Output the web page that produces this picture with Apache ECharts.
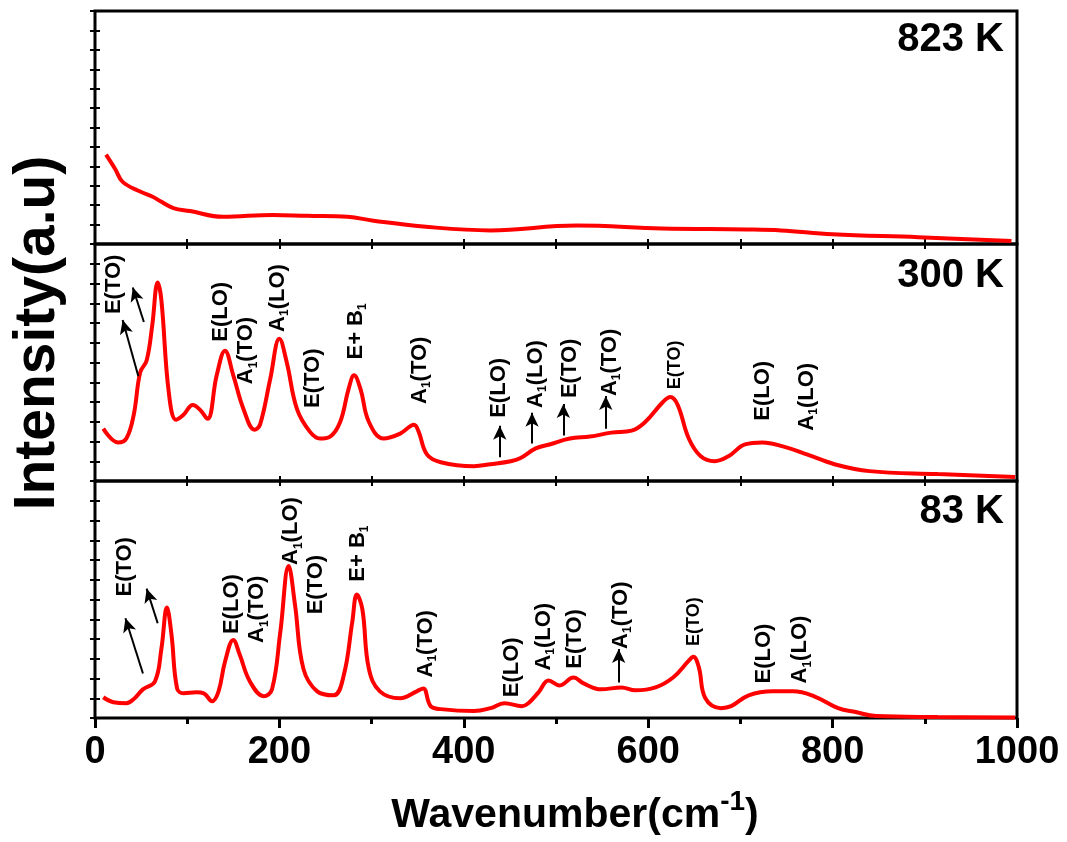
<!DOCTYPE html>
<html>
<head>
<meta charset="utf-8">
<script src="https://cdn.jsdelivr.net/npm/echarts@6/dist/echarts.min.js"></script>
<style>
  html, body { margin: 0; padding: 0; background: #fff; }
  #chart { width: 1067px; height: 842px; }
</style>
</head>
<body>
<div id="chart"></div>
<script>
// Raman spectra, [wavenumber (cm-1), intensity (a.u.)]
const k823 = [[12,92],[22,77],[30,64],[49,54],[62,49],[71,44],[85,37],[103,34],[139,28],[193,30],[230,29],[274,28],[302,24],[356,18],[429,14],[522,19],[615,16],[707,15],[744,14],[800,10],[893,7],[994,3]];
const k300 = [[9,53],[25,39],[34,43],[42,67],[49,110],[56,122],[62,157],[68,201],[72,183],[80,90],[88,62],[96,67],[106,77],[114,72],[122,63],[132,107],[141,132],[150,107],[161,73],[173,52],[179,57],[190,103],[200,144],[208,120],[219,73],[233,50],[244,43],[255,45],[266,60],[275,93],[281,107],[288,93],[297,60],[313,43],[331,48],[346,57],[351,50],[360,27],[375,19],[411,15],[429,17],[451,20],[461,23],[478,33],[493,37],[515,43],[537,45],[560,49],[582,51],[597,60],[616,80],[624,85],[632,77],[644,43],[657,25],[672,20],[687,25],[705,37],[724,39],[746,35],[772,27],[802,17],[840,10],[914,7],[998,4]];
const k83 = [[9,21],[20,16],[34,15],[43,20],[52,29],[65,37],[72,70],[78,112],[83,84],[89,30],[96,25],[110,26],[118,25],[127,17],[134,27],[141,57],[150,79],[157,64],[168,37],[183,22],[192,29],[201,87],[210,154],[217,114],[226,50],[241,27],[259,23],[270,44],[279,97],[284,125],[290,110],[297,50],[309,27],[331,20],[349,27],[356,30],[364,12],[375,9],[411,7],[429,10],[444,15],[463,12],[470,15],[481,26],[492,38],[504,33],[519,41],[530,35],[549,29],[571,31],[586,28],[608,31],[627,41],[644,58],[649,62],[655,51],[662,20],[679,10],[690,12],[709,23],[735,27],[757,27],[780,22],[806,10],[825,6],[847,2],[914,1],[998,0.5]];

const temps = ['823 K', '300 K', '83 K'];
const xTicks = ['0', '200', '400', '600', '800', '1000'];

// mode assignments [wavenumber, intensity, text]
const tags823 = [];
const tags300 = [[21,169,'E(TO)'],[137,141,'E(LO)'],[164,98,'A{s|1}(TO)'],[198,151,'A{s|1}(LO)'],[236,74,'E(TO)'],[283,123,'E+ B{s|1}'],[352,78,'A{s|1}(TO)'],[438,64,'E(LO)'],[478,74,'A{s|1}(LO)'],[515,84,'E(TO)'],[558,86,'A{s|1}(TO)'],[724,61,'E(LO)'],[772,51,'A{s|1}(LO)']];
const tags83 = [[32,123,'E(TO)'],[148,85,'E(LO)'],[176,76,'A{s|1}(TO)'],[213,155,'A{s|1}(LO)'],[240,105,'E(TO)'],[285,138,'E+ B{s|1}'],[359,41,'A{s|1}(TO)'],[452,21,'E(LO)'],[487,48,'A{s|1}(LO)'],[521,50,'E(TO)'],[570,70,'A{s|1}(TO)'],[726,35,'E(LO)'],[765,35,'A{s|1}(LO)']];
const smallTags823 = [];
const smallTags300 = [[629,93,'E(TO)']];
const smallTags83 = [[650,73,'E(TO)']];

// arrows [[from], [to]]
const arrows823 = [];
const arrows300 = [[[47,106],[30,163]],[[53,161],[41,196]],[[439,24],[439,56]],[[474,38],[474,69]],[[508,46],[508,78]],[[554,53],[554,86]]];
const arrows83 = [[[52,45],[33,101]],[[68,96],[56,131]],[[568,36],[568,70]]];

const spectra = [k823, k300, k83];
const tags = [tags823, tags300, tags83];
const smallTags = [smallTags823, smallTags300, smallTags83];
const arrows = [arrows823, arrows300, arrows83];

const FONT = '"Liberation Sans", Arial, sans-serif';
const chart = echarts.init(document.getElementById('chart'));

const grids = [
  { left: 95, right: 50, top: 11, height: 233 },
  { left: 95, right: 50, top: 244, height: 237 },
  { left: 95, right: 50, top: 481, height: 237 }
].map(g => ({ ...g, show: true, borderColor: '#000', borderWidth: 3 }));

const xAxes = [];
const yAxes = [];
const series = [];

const tagLabel = (size) => ({
  show: true,
  position: [0, 0],
  rotate: 90,
  align: 'left',
  verticalAlign: 'middle',
  formatter: p => p.name,
  fontSize: size,
  fontWeight: 'bold',
  fontFamily: FONT,
  color: '#000',
  opacity: 1,
  textBorderWidth: 0,
  textBorderColor: 'transparent',
  lineHeight: size + 4,
  rich: {
    s: { fontSize: 12, fontWeight: 'bold', fontFamily: FONT, color: '#000', lineHeight: 12, verticalAlign: 'bottom', textBorderWidth: 0 }
  }
});

spectra.forEach((data, i) => {
  const last = i === 2;
  xAxes.push({
    gridIndex: i, type: 'value', min: 0, max: 1000, interval: last ? 200 : 100,
    position: 'bottom',
    axisLine: { show: false }, splitLine: { show: false },
    axisTick: { show: true, inside: !last, length: last ? 10 : 5, lineStyle: { color: '#000', width: last ? 3 : 2 } },
    minorTick: { show: last, splitNumber: 2, length: 6, lineStyle: { color: '#000', width: 3 } },
    axisLabel: {
      show: last, color: '#000', fontSize: 38, fontWeight: 'bold', fontFamily: FONT, margin: 16,
      formatter: v => xTicks[Math.round(v / 200)]
    }
  });
  xAxes.push({
    gridIndex: i, type: 'value', min: 0, max: 1000, interval: 100, position: 'top',
    axisLine: { show: false }, splitLine: { show: false }, axisLabel: { show: false },
    axisTick: { show: true, inside: true, length: 5, lineStyle: { color: '#000', width: 2 } }
  });
  ['left', 'right'].forEach(pos => {
    yAxes.push({
      gridIndex: i, type: 'value', min: 0, max: 240, interval: 20, position: pos,
      axisLine: { show: false }, splitLine: { show: false }, axisLabel: { show: false },
      axisTick: { show: true, inside: true, length: 5, lineStyle: { color: '#000', width: 2 } }
    });
  });

  series.push({
    type: 'line', xAxisIndex: 2 * i, yAxisIndex: 2 * i,
    data: data, smooth: 0.4, symbol: 'none',
    lineStyle: { color: '#ff0000', width: 4 },
    markLine: {
      silent: true, symbol: ['none', 'arrow'], symbolSize: [10, 14],
      label: { show: false },
      lineStyle: { color: '#000', width: 2, type: 'solid' },
      data: arrows[i].map(a => [{ coord: a[0] }, { coord: a[1] }])
    }
  });
  series.push({
    type: 'scatter', xAxisIndex: 2 * i, yAxisIndex: 2 * i, symbolSize: 0, silent: true,
    itemStyle: { color: '#000' },
    data: tags[i].map(t => ({ name: t[2], value: [t[0], t[1]] })),
    label: tagLabel(22)
  });
  series.push({
    type: 'scatter', xAxisIndex: 2 * i, yAxisIndex: 2 * i, symbolSize: 0, silent: true,
    itemStyle: { color: '#000' },
    data: smallTags[i].map(t => ({ name: t[2], value: [t[0], t[1]] })),
    label: tagLabel(18)
  });
});

const panelY = [40, 276, 512];

chart.setOption({
  animation: false,
  backgroundColor: '#fff',
  grid: grids,
  xAxis: xAxes,
  yAxis: yAxes,
  series: series,
  graphic: [
    ...temps.map((t, i) => ({
      type: 'text', x: 1004, y: panelY[i],
      style: { text: t, fontSize: 40, fontWeight: 'bold', fontFamily: FONT, fill: '#000', align: 'right', verticalAlign: 'middle' }
    })),
    {
      type: 'text', x: 38, y: 333, rotation: Math.PI / 2,
      style: { text: 'Intensity(a.u)', fontSize: 57, fontWeight: 'bold', fontFamily: FONT, fill: '#000', align: 'center', verticalAlign: 'middle' }
    },
    {
      type: 'text', x: 575, y: 816,
      style: {
        text: 'Wavenumber(cm{sup|-1})', fontSize: 41, fontWeight: 'bold', fontFamily: FONT, fill: '#000',
        align: 'center', verticalAlign: 'middle', lineHeight: 56,
        rich: { sup: { fontSize: 28, fontWeight: 'bold', fontFamily: FONT, fill: '#000', lineHeight: 28, verticalAlign: 'top' } }
      }
    }
  ]
});
</script>
</body>
</html>
